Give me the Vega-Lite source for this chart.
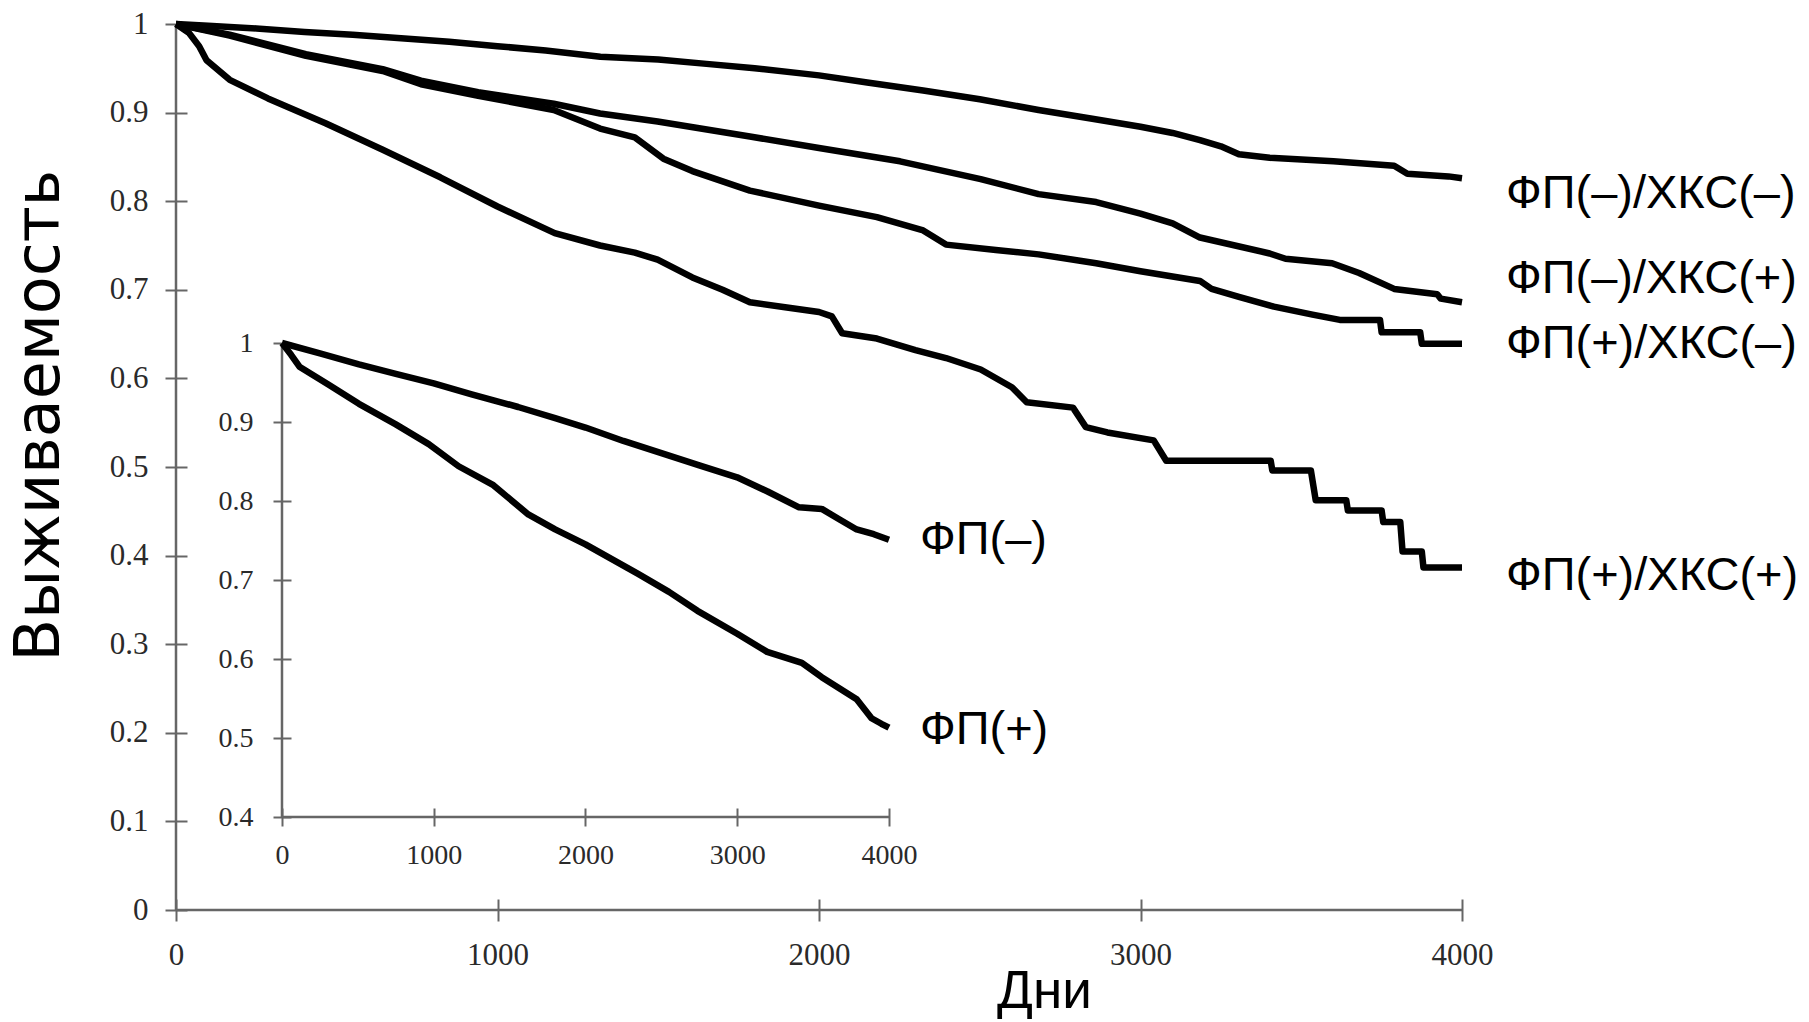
{
  "$schema": "https://vega.github.io/schema/vega-lite/v6.json",
  "width": 1286,
  "height": 886,
  "autosize": {"type": "none"},
  "padding": {"left": 176, "top": 24, "right": 347, "bottom": 112},
  "background": "white",
  "config": {
    "view": {"stroke": null},
    "axis": {
      "domain": false,
      "grid": false,
      "tickColor": "#666666",
      "tickWidth": 2,
      "labelFont": "Liberation Serif",
      "labelColor": "#2a2a2a",
      "labelFlush": false,
      "labelOverlap": false,
      "labelBound": false,
      "titleFont": "Liberation Sans",
      "titleFontWeight": "normal",
      "titleColor": "#000000"
    }
  },
  "datasets": {
    "mainFrame": [{"day": 0, "day2": 4000, "lo": 0, "hi": 1}],
    "insetFrame": [{"day": 0, "day2": 4000, "lo": 0.4, "hi": 1}],
    "main": [
      {"group": "ФП(–)/ХКС(–)", "day": 0, "surv": 1.0},
      {"group": "ФП(–)/ХКС(–)", "day": 100, "surv": 0.998},
      {"group": "ФП(–)/ХКС(–)", "day": 250, "surv": 0.995},
      {"group": "ФП(–)/ХКС(–)", "day": 400, "surv": 0.991},
      {"group": "ФП(–)/ХКС(–)", "day": 550, "surv": 0.988},
      {"group": "ФП(–)/ХКС(–)", "day": 700, "surv": 0.984},
      {"group": "ФП(–)/ХКС(–)", "day": 850, "surv": 0.98},
      {"group": "ФП(–)/ХКС(–)", "day": 1000, "surv": 0.975},
      {"group": "ФП(–)/ХКС(–)", "day": 1150, "surv": 0.97},
      {"group": "ФП(–)/ХКС(–)", "day": 1320, "surv": 0.963},
      {"group": "ФП(–)/ХКС(–)", "day": 1500, "surv": 0.96},
      {"group": "ФП(–)/ХКС(–)", "day": 1650, "surv": 0.955},
      {"group": "ФП(–)/ХКС(–)", "day": 1800, "surv": 0.95},
      {"group": "ФП(–)/ХКС(–)", "day": 2000, "surv": 0.942},
      {"group": "ФП(–)/ХКС(–)", "day": 2150, "surv": 0.934},
      {"group": "ФП(–)/ХКС(–)", "day": 2324, "surv": 0.925},
      {"group": "ФП(–)/ХКС(–)", "day": 2500, "surv": 0.915},
      {"group": "ФП(–)/ХКС(–)", "day": 2683, "surv": 0.903},
      {"group": "ФП(–)/ХКС(–)", "day": 2850, "surv": 0.893},
      {"group": "ФП(–)/ХКС(–)", "day": 3000, "surv": 0.884},
      {"group": "ФП(–)/ХКС(–)", "day": 3100, "surv": 0.877},
      {"group": "ФП(–)/ХКС(–)", "day": 3185, "surv": 0.869},
      {"group": "ФП(–)/ХКС(–)", "day": 3250, "surv": 0.862},
      {"group": "ФП(–)/ХКС(–)", "day": 3306, "surv": 0.853},
      {"group": "ФП(–)/ХКС(–)", "day": 3402, "surv": 0.849},
      {"group": "ФП(–)/ХКС(–)", "day": 3600, "surv": 0.845},
      {"group": "ФП(–)/ХКС(–)", "day": 3789, "surv": 0.84},
      {"group": "ФП(–)/ХКС(–)", "day": 3830, "surv": 0.831},
      {"group": "ФП(–)/ХКС(–)", "day": 3958, "surv": 0.828},
      {"group": "ФП(–)/ХКС(–)", "day": 4000, "surv": 0.826},

      {"group": "ФП(–)/ХКС(+)", "day": 0, "surv": 1.0},
      {"group": "ФП(–)/ХКС(+)", "day": 167, "surv": 0.988},
      {"group": "ФП(–)/ХКС(+)", "day": 404, "surv": 0.966},
      {"group": "ФП(–)/ХКС(+)", "day": 643, "surv": 0.949},
      {"group": "ФП(–)/ХКС(+)", "day": 762, "surv": 0.936},
      {"group": "ФП(–)/ХКС(+)", "day": 940, "surv": 0.923},
      {"group": "ФП(–)/ХКС(+)", "day": 1175, "surv": 0.91},
      {"group": "ФП(–)/ХКС(+)", "day": 1319, "surv": 0.899},
      {"group": "ФП(–)/ХКС(+)", "day": 1498, "surv": 0.89},
      {"group": "ФП(–)/ХКС(+)", "day": 1785, "surv": 0.873},
      {"group": "ФП(–)/ХКС(+)", "day": 2000, "surv": 0.86},
      {"group": "ФП(–)/ХКС(+)", "day": 2252, "surv": 0.845},
      {"group": "ФП(–)/ХКС(+)", "day": 2503, "surv": 0.825},
      {"group": "ФП(–)/ХКС(+)", "day": 2683, "surv": 0.808},
      {"group": "ФП(–)/ХКС(+)", "day": 2862, "surv": 0.799},
      {"group": "ФП(–)/ХКС(+)", "day": 3000, "surv": 0.786},
      {"group": "ФП(–)/ХКС(+)", "day": 3100, "surv": 0.775},
      {"group": "ФП(–)/ХКС(+)", "day": 3185, "surv": 0.759},
      {"group": "ФП(–)/ХКС(+)", "day": 3402, "surv": 0.741},
      {"group": "ФП(–)/ХКС(+)", "day": 3451, "surv": 0.735},
      {"group": "ФП(–)/ХКС(+)", "day": 3596, "surv": 0.73},
      {"group": "ФП(–)/ХКС(+)", "day": 3680, "surv": 0.719},
      {"group": "ФП(–)/ХКС(+)", "day": 3789, "surv": 0.701},
      {"group": "ФП(–)/ХКС(+)", "day": 3923, "surv": 0.695},
      {"group": "ФП(–)/ХКС(+)", "day": 3934, "surv": 0.69},
      {"group": "ФП(–)/ХКС(+)", "day": 4000, "surv": 0.686},

      {"group": "ФП(+)/ХКС(–)", "day": 0, "surv": 1.0},
      {"group": "ФП(+)/ХКС(–)", "day": 167, "surv": 0.987},
      {"group": "ФП(+)/ХКС(–)", "day": 404, "surv": 0.964},
      {"group": "ФП(+)/ХКС(–)", "day": 643, "surv": 0.947},
      {"group": "ФП(+)/ХКС(–)", "day": 762, "surv": 0.932},
      {"group": "ФП(+)/ХКС(–)", "day": 940, "surv": 0.919},
      {"group": "ФП(+)/ХКС(–)", "day": 1175, "surv": 0.903},
      {"group": "ФП(+)/ХКС(–)", "day": 1319, "surv": 0.882},
      {"group": "ФП(+)/ХКС(–)", "day": 1427, "surv": 0.872},
      {"group": "ФП(+)/ХКС(–)", "day": 1516, "surv": 0.848},
      {"group": "ФП(+)/ХКС(–)", "day": 1606, "surv": 0.834},
      {"group": "ФП(+)/ХКС(–)", "day": 1785, "surv": 0.812},
      {"group": "ФП(+)/ХКС(–)", "day": 2000, "surv": 0.795},
      {"group": "ФП(+)/ХКС(–)", "day": 2180, "surv": 0.782},
      {"group": "ФП(+)/ХКС(–)", "day": 2324, "surv": 0.767},
      {"group": "ФП(+)/ХКС(–)", "day": 2395, "surv": 0.751},
      {"group": "ФП(+)/ХКС(–)", "day": 2550, "surv": 0.745},
      {"group": "ФП(+)/ХКС(–)", "day": 2683, "surv": 0.74},
      {"group": "ФП(+)/ХКС(–)", "day": 2862, "surv": 0.73},
      {"group": "ФП(+)/ХКС(–)", "day": 3000, "surv": 0.721},
      {"group": "ФП(+)/ХКС(–)", "day": 3185, "surv": 0.71},
      {"group": "ФП(+)/ХКС(–)", "day": 3221, "surv": 0.701},
      {"group": "ФП(+)/ХКС(–)", "day": 3306, "surv": 0.692},
      {"group": "ФП(+)/ХКС(–)", "day": 3415, "surv": 0.681},
      {"group": "ФП(+)/ХКС(–)", "day": 3535, "surv": 0.672},
      {"group": "ФП(+)/ХКС(–)", "day": 3620, "surv": 0.666},
      {"group": "ФП(+)/ХКС(–)", "day": 3745, "surv": 0.666},
      {"group": "ФП(+)/ХКС(–)", "day": 3750, "surv": 0.652},
      {"group": "ФП(+)/ХКС(–)", "day": 3870, "surv": 0.652},
      {"group": "ФП(+)/ХКС(–)", "day": 3875, "surv": 0.639},
      {"group": "ФП(+)/ХКС(–)", "day": 4000, "surv": 0.639},

      {"group": "ФП(+)/ХКС(+)", "day": 0, "surv": 1.0},
      {"group": "ФП(+)/ХКС(+)", "day": 40, "surv": 0.99},
      {"group": "ФП(+)/ХКС(+)", "day": 72, "surv": 0.975},
      {"group": "ФП(+)/ХКС(+)", "day": 95, "surv": 0.959},
      {"group": "ФП(+)/ХКС(+)", "day": 167, "surv": 0.937},
      {"group": "ФП(+)/ХКС(+)", "day": 286, "surv": 0.916},
      {"group": "ФП(+)/ХКС(+)", "day": 465, "surv": 0.888},
      {"group": "ФП(+)/ХКС(+)", "day": 643, "surv": 0.858},
      {"group": "ФП(+)/ХКС(+)", "day": 822, "surv": 0.827},
      {"group": "ФП(+)/ХКС(+)", "day": 1000, "surv": 0.794},
      {"group": "ФП(+)/ХКС(+)", "day": 1178, "surv": 0.764},
      {"group": "ФП(+)/ХКС(+)", "day": 1319, "surv": 0.75},
      {"group": "ФП(+)/ХКС(+)", "day": 1427, "surv": 0.742},
      {"group": "ФП(+)/ХКС(+)", "day": 1498, "surv": 0.734},
      {"group": "ФП(+)/ХКС(+)", "day": 1606, "surv": 0.714},
      {"group": "ФП(+)/ХКС(+)", "day": 1700, "surv": 0.7},
      {"group": "ФП(+)/ХКС(+)", "day": 1785, "surv": 0.686},
      {"group": "ФП(+)/ХКС(+)", "day": 1900, "surv": 0.68},
      {"group": "ФП(+)/ХКС(+)", "day": 2000, "surv": 0.675},
      {"group": "ФП(+)/ХКС(+)", "day": 2040, "surv": 0.67},
      {"group": "ФП(+)/ХКС(+)", "day": 2072, "surv": 0.651},
      {"group": "ФП(+)/ХКС(+)", "day": 2180, "surv": 0.645},
      {"group": "ФП(+)/ХКС(+)", "day": 2300, "surv": 0.632},
      {"group": "ФП(+)/ХКС(+)", "day": 2395, "surv": 0.623},
      {"group": "ФП(+)/ХКС(+)", "day": 2503, "surv": 0.61},
      {"group": "ФП(+)/ХКС(+)", "day": 2600, "surv": 0.59},
      {"group": "ФП(+)/ХКС(+)", "day": 2646, "surv": 0.573},
      {"group": "ФП(+)/ХКС(+)", "day": 2790, "surv": 0.567},
      {"group": "ФП(+)/ХКС(+)", "day": 2830, "surv": 0.545},
      {"group": "ФП(+)/ХКС(+)", "day": 2897, "surv": 0.539},
      {"group": "ФП(+)/ХКС(+)", "day": 3041, "surv": 0.53},
      {"group": "ФП(+)/ХКС(+)", "day": 3080, "surv": 0.507},
      {"group": "ФП(+)/ХКС(+)", "day": 3405, "surv": 0.507},
      {"group": "ФП(+)/ХКС(+)", "day": 3410, "surv": 0.496},
      {"group": "ФП(+)/ХКС(+)", "day": 3530, "surv": 0.496},
      {"group": "ФП(+)/ХКС(+)", "day": 3545, "surv": 0.4625},
      {"group": "ФП(+)/ХКС(+)", "day": 3640, "surv": 0.4625},
      {"group": "ФП(+)/ХКС(+)", "day": 3645, "surv": 0.451},
      {"group": "ФП(+)/ХКС(+)", "day": 3750, "surv": 0.451},
      {"group": "ФП(+)/ХКС(+)", "day": 3755, "surv": 0.438},
      {"group": "ФП(+)/ХКС(+)", "day": 3808, "surv": 0.438},
      {"group": "ФП(+)/ХКС(+)", "day": 3815, "surv": 0.4045},
      {"group": "ФП(+)/ХКС(+)", "day": 3875, "surv": 0.4045},
      {"group": "ФП(+)/ХКС(+)", "day": 3880, "surv": 0.3867},
      {"group": "ФП(+)/ХКС(+)", "day": 4000, "surv": 0.3867}
    ],
    "mainLabels": [
      {"label": "ФП(–)/ХКС(–)", "day": 4000, "surv": 0.808},
      {"label": "ФП(–)/ХКС(+)", "day": 4000, "surv": 0.712},
      {"label": "ФП(+)/ХКС(–)", "day": 4000, "surv": 0.639},
      {"label": "ФП(+)/ХКС(+)", "day": 4000, "surv": 0.377}
    ],
    "inset": [
      {"group": "ФП(–)", "day": 0, "surv": 1.0},
      {"group": "ФП(–)", "day": 250, "surv": 0.987},
      {"group": "ФП(–)", "day": 507, "surv": 0.973},
      {"group": "ФП(–)", "day": 750, "surv": 0.961},
      {"group": "ФП(–)", "day": 1000, "surv": 0.949},
      {"group": "ФП(–)", "day": 1250, "surv": 0.935},
      {"group": "ФП(–)", "day": 1556, "surv": 0.919},
      {"group": "ФП(–)", "day": 1800, "surv": 0.905},
      {"group": "ФП(–)", "day": 2000, "surv": 0.893},
      {"group": "ФП(–)", "day": 2250, "surv": 0.876},
      {"group": "ФП(–)", "day": 2541, "surv": 0.858},
      {"group": "ФП(–)", "day": 2750, "surv": 0.845},
      {"group": "ФП(–)", "day": 2999, "surv": 0.83},
      {"group": "ФП(–)", "day": 3200, "surv": 0.812},
      {"group": "ФП(–)", "day": 3407, "surv": 0.792},
      {"group": "ФП(–)", "day": 3557, "surv": 0.79},
      {"group": "ФП(–)", "day": 3680, "surv": 0.776},
      {"group": "ФП(–)", "day": 3787, "surv": 0.764},
      {"group": "ФП(–)", "day": 3900, "surv": 0.758},
      {"group": "ФП(–)", "day": 4000, "surv": 0.751},

      {"group": "ФП(+)", "day": 0, "surv": 1.0},
      {"group": "ФП(+)", "day": 60, "surv": 0.985},
      {"group": "ФП(+)", "day": 115, "surv": 0.97},
      {"group": "ФП(+)", "day": 300, "surv": 0.948},
      {"group": "ФП(+)", "day": 507, "surv": 0.923},
      {"group": "ФП(+)", "day": 750, "surv": 0.897},
      {"group": "ФП(+)", "day": 967, "surv": 0.872},
      {"group": "ФП(+)", "day": 1164, "surv": 0.844},
      {"group": "ФП(+)", "day": 1393, "surv": 0.82},
      {"group": "ФП(+)", "day": 1623, "surv": 0.783},
      {"group": "ФП(+)", "day": 1800, "surv": 0.764},
      {"group": "ФП(+)", "day": 2000, "surv": 0.745},
      {"group": "ФП(+)", "day": 2344, "surv": 0.708},
      {"group": "ФП(+)", "day": 2550, "surv": 0.685},
      {"group": "ФП(+)", "day": 2738, "surv": 0.661},
      {"group": "ФП(+)", "day": 3000, "surv": 0.632},
      {"group": "ФП(+)", "day": 3197, "surv": 0.609},
      {"group": "ФП(+)", "day": 3426, "surv": 0.595},
      {"group": "ФП(+)", "day": 3557, "surv": 0.577},
      {"group": "ФП(+)", "day": 3680, "surv": 0.562},
      {"group": "ФП(+)", "day": 3787, "surv": 0.549},
      {"group": "ФП(+)", "day": 3885, "surv": 0.525},
      {"group": "ФП(+)", "day": 3950, "surv": 0.518},
      {"group": "ФП(+)", "day": 4000, "surv": 0.513}
    ],
    "insetLabels": [
      {"label": "ФП(–)", "day": 4000, "surv": 0.751},
      {"label": "ФП(+)", "day": 4000, "surv": 0.51}
    ]
  },
  "layer": [
    {
      "data": {"name": "mainFrame"},
      "mark": {"type": "rule", "stroke": "#666666", "strokeWidth": 2.5},
      "encoding": {
        "x": {"field": "day", "type": "quantitative", "scale": {"domain": [0, 4000], "nice": false, "zero": false}, "axis": null},
        "y": {"field": "lo", "type": "quantitative", "scale": {"domain": [0, 1], "nice": false, "zero": false}, "axis": null},
        "y2": {"field": "hi"}
      }
    },
    {
      "data": {"name": "mainFrame"},
      "mark": {"type": "rule", "stroke": "#666666", "strokeWidth": 2.5},
      "encoding": {
        "x": {"field": "day", "type": "quantitative", "scale": {"domain": [0, 4000], "nice": false, "zero": false}, "axis": null},
        "x2": {"field": "day2"},
        "y": {"field": "lo", "type": "quantitative", "scale": {"domain": [0, 1], "nice": false, "zero": false}, "axis": null}
      }
    },
    {
      "data": {"name": "main"},
      "mark": {"type": "line", "stroke": "#000000", "strokeWidth": 6.5, "strokeJoin": "round", "strokeCap": "butt"},
      "encoding": {
        "detail": {"field": "group"},
        "x": {
          "field": "day",
          "type": "quantitative",
          "scale": {"domain": [0, 4000], "nice": false, "zero": false},
          "axis": {
            "orient": "bottom",
            "offset": -11,
            "tickSize": 22,
            "values": [0, 1000, 2000, 3000, 4000],
            "format": "d",
            "labelFontSize": 31,
            "labelPadding": 19,
            "title": "Дни",
            "titleFontSize": 53,
            "titleX": 868,
            "titleY": 108,
            "titleAlign": "center",
            "titleBaseline": "alphabetic",
            "titleAngle": 0
          }
        },
        "y": {
          "field": "surv",
          "type": "quantitative",
          "scale": {"domain": [0, 1], "nice": false, "zero": false},
          "axis": {
            "orient": "left",
            "offset": -11,
            "tickSize": 22,
            "values": [0, 0.1, 0.2, 0.3, 0.4, 0.5, 0.6, 0.7, 0.8, 0.9, 1],
            "format": "~g",
            "labelFontSize": 31,
            "labelPadding": 17,
            "title": "Выживаемость",
            "titleFont": "DejaVu Sans",
            "titleFontSize": 62,
            "titleX": -129,
            "titleY": 391,
            "titleAngle": -90,
            "titleAlign": "center",
            "titleBaseline": "alphabetic"
          }
        }
      }
    },
    {
      "data": {"name": "mainLabels"},
      "mark": {"type": "text", "font": "Liberation Sans", "fontSize": 47, "align": "left", "baseline": "middle", "dx": 44, "color": "#000000"},
      "encoding": {
        "x": {"field": "day", "type": "quantitative", "scale": {"domain": [0, 4000], "nice": false, "zero": false}, "axis": null},
        "y": {"field": "surv", "type": "quantitative", "scale": {"domain": [0, 1], "nice": false, "zero": false}, "axis": null},
        "text": {"field": "label"}
      }
    },
    {
      "data": {"name": "insetFrame"},
      "mark": {"type": "rule", "stroke": "#666666", "strokeWidth": 2.5},
      "encoding": {
        "x": {"field": "day", "type": "quantitative", "scale": {"domain": [-698.5, 7776.1], "nice": false, "zero": false}, "axis": null},
        "y": {"field": "lo", "type": "quantitative", "scale": {"domain": [0.28228, 1.4038], "nice": false, "zero": false}, "axis": null},
        "y2": {"field": "hi"}
      }
    },
    {
      "data": {"name": "insetFrame"},
      "mark": {"type": "rule", "stroke": "#666666", "strokeWidth": 2.5},
      "encoding": {
        "x": {"field": "day", "type": "quantitative", "scale": {"domain": [-698.5, 7776.1], "nice": false, "zero": false}, "axis": null},
        "x2": {"field": "day2"},
        "y": {"field": "lo", "type": "quantitative", "scale": {"domain": [0.28228, 1.4038], "nice": false, "zero": false}, "axis": null}
      }
    },
    {
      "data": {"name": "inset"},
      "mark": {"type": "line", "stroke": "#000000", "strokeWidth": 6.5, "strokeJoin": "round", "strokeCap": "butt"},
      "encoding": {
        "detail": {"field": "group"},
        "x": {
          "field": "day",
          "type": "quantitative",
          "scale": {"domain": [-698.5, 7776.1], "nice": false, "zero": false},
          "axis": {
            "orient": "bottom",
            "offset": -102,
            "tickSize": 18,
            "values": [0, 1000, 2000, 3000, 4000],
            "format": "d",
            "labelFontSize": 28,
            "labelPadding": 15,
            "title": null
          }
        },
        "y": {
          "field": "surv",
          "type": "quantitative",
          "scale": {"domain": [0.28228, 1.4038], "nice": false, "zero": false},
          "axis": {
            "orient": "left",
            "offset": -115,
            "tickSize": 18,
            "values": [0.4, 0.5, 0.6, 0.7, 0.8, 0.9, 1],
            "format": "~g",
            "labelFontSize": 28,
            "labelPadding": 20,
            "title": null
          }
        }
      }
    },
    {
      "data": {"name": "insetLabels"},
      "mark": {"type": "text", "font": "Liberation Sans", "fontSize": 47, "align": "left", "baseline": "middle", "dx": 31, "color": "#000000"},
      "encoding": {
        "x": {"field": "day", "type": "quantitative", "scale": {"domain": [-698.5, 7776.1], "nice": false, "zero": false}, "axis": null},
        "y": {"field": "surv", "type": "quantitative", "scale": {"domain": [0.28228, 1.4038], "nice": false, "zero": false}, "axis": null},
        "text": {"field": "label"}
      }
    }
  ],
  "resolve": {
    "scale": {"x": "independent", "y": "independent"},
    "axis": {"x": "independent", "y": "independent"}
  }
}
